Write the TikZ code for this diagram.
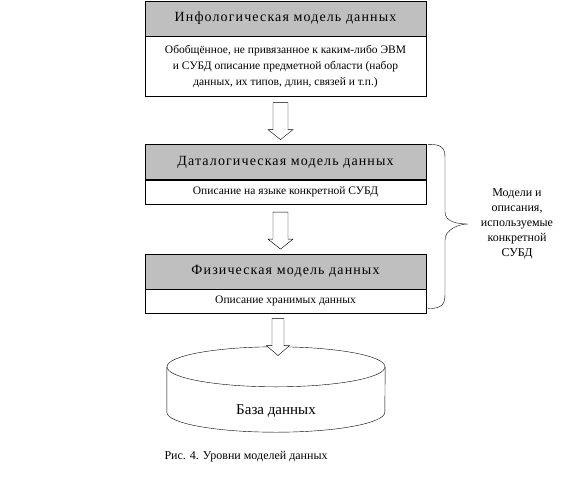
\documentclass[tikz,border=0pt]{standalone}
\usepackage{fontspec}
\setmainfont{Liberation Serif}
\usetikzlibrary{positioning,calc}
\colorlet{hdrgray}{black!25}
% hollow block arrow: start, half shaft width, half head width
\newcommand{\blkarrow}[3]{\draw[blockarr] (#1) ++(-#2,0) -- ++(0,27)
-- ++({#2-#3},0) -- ++(#3,10) -- ++(#3,-10) -- ++({#2-#3},0) -- ++(0,-27) -- cycle;}

\begin{document}
\begin{tikzpicture}[x=1pt,y=-1pt,
node distance=0pt,
hdr/.style={draw,fill=hdrgray,minimum width=281pt,minimum height=35pt,
inner sep=0pt,font=\fontsize{14}{16}\selectfont\addfontfeatures{LetterSpace=8}},
desc/.style={draw,fill=white,minimum width=281pt,minimum height=24pt,
inner sep=0pt,align=center,font=\fontsize{11.5}{16}\selectfont},
blockarr/.style={draw,fill=white},
]
\useasboundingbox (0,0) rectangle (578,480);

% three levels
\node[hdr] (h1) at (285.5,18.5) {Инфологическая модель данных};
\node[desc,below=of h1,minimum height=60pt] (d1) {Обобщённое, не привязанное к каким-либо ЭВМ\\
и СУБД описание предметной области (набор\\данных, их типов, длин, связей и т.п.)};
\node[hdr] (h2) at (285.5,162) {Даталогическая модель данных};
\node[desc,below=of h2] (d2) {Описание на языке конкретной СУБД};
\node[hdr] (h3) at (285.5,271.5) {Физическая модель данных};
\node[desc,below=of h3] (d3) {Описание хранимых данных};

% database
\node[minimum width=218pt,minimum height=85pt,inner sep=0pt,
label={[yshift=-22pt,font=\fontsize{15}{17}\selectfont]center:База данных}]
(db) at (276,389.5) {};
\draw ($(db.north)+(0,20)$) ellipse [x radius=109pt,y radius=20pt];
\draw ($(db.north west)+(0,20)$) -- ($(db.south west)+(0,-20)$)
arc [start angle=180,end angle=360,x radius=109pt,y radius=20pt]
-- ($(db.north east)+(0,20)$);

% block arrows
\blkarrow{$(d1.south)+(-5,6)$}{7.5}{12.5}
\blkarrow{$(d2.south)+(-5,8)$}{7.5}{12.5}
\blkarrow{$(d3.south)+(-7.5,5)$}{6}{11.5}

% brace
\node[align=center,font=\fontsize{12}{15}\selectfont] (brtext) at (517,224)
{Модели и\\описания,\\используемые\\конкретной\\СУБД};
\draw ($(h2.north east)+(2,0)$) .. controls +(14,0) and +(0,-10) .. (445,158)
-- (445,212) .. controls +(0,10) and +(-10,0) .. (brtext.west -| 468,226)
.. controls +(-10,0) and +(0,-10) .. (445,240) -- (445,294)
.. controls +(0,10) and +(14,0) .. ($(d3.south east)+(2,-5)$);

% caption
\node[anchor=west,font=\fontsize{12}{14}\selectfont] (cap) at (161,457)
{Рис. 4. Уровни моделей данных};
\end{tikzpicture}
\end{document}
